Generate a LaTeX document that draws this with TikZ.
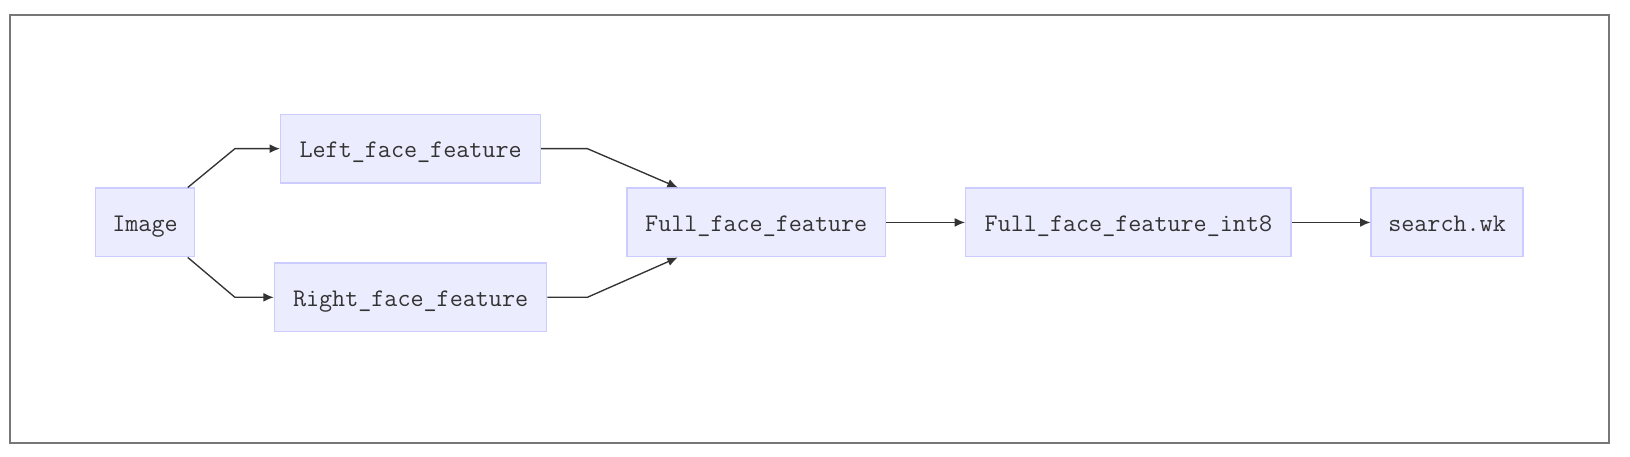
\documentclass[tikz,border=0pt]{standalone}
\usepackage{fontspec}
\usetikzlibrary{arrows.meta,calc}
\definecolor{nodefill}{HTML}{ECECFF}
\definecolor{nodeborder}{HTML}{CCCCFF}
\definecolor{txt}{HTML}{333333}
\definecolor{framegray}{HTML}{777777}
\definecolor{edgecol}{HTML}{333333}
\tikzset{
  box/.style={draw=nodeborder, fill=nodefill, line width=1.3pt, inner sep=0pt,
    minimum height=66pt, text=txt, text height=17pt, text depth=0pt,
    font=\ttfamily\fontsize{24.4}{28}\selectfont},
  edge/.style={draw=edgecol, line width=1.3pt, -{Latex[length=10pt,width=8.5pt]}},
}
\begin{document}
\begin{tikzpicture}[x=1pt,y=-1pt]
\useasboundingbox (0,0) rectangle (1568,438.7);
\draw[framegray, line width=2pt] (10,14) rectangle (1548,426);
\node[box, minimum width=95pt] (img) at (139.5,214) {Image};
\node[box, minimum width=250pt] (left) at (395,143) {Left\_face\_feature};
\node[box, minimum width=262pt] (right) at (395,286) {Right\_face\_feature};
\node[box, minimum width=249pt] (full) at (727.5,214) {Full\_face\_feature};
\node[box, minimum width=313pt] (int8) at (1085.5,214) {Full\_face\_feature\_int8};
\node[box, minimum width=146pt] (search) at (1392,214) {search.wk};
\draw[edge] ([xshift=-7pt]img.north east) -- (226,143) -- (left.west);
\draw[edge] ([xshift=-7pt]img.south east) -- (226,286) -- (right.west);
\draw[edge] (left.east) -- (565,143) -- ([xshift=-75.5pt]full.north);
\draw[edge] (right.east) -- (565,286) -- ([xshift=-75.5pt]full.south);
\draw[edge] (full.east) -- (int8.west);
\draw[edge] (int8.east) -- (search.west);
\end{tikzpicture}
\end{document}
